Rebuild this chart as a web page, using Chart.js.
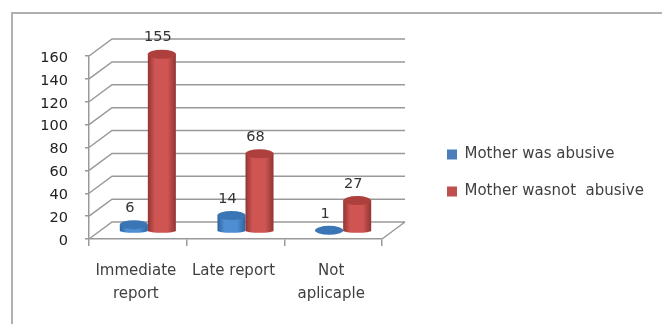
<!DOCTYPE html>
<html>
<head>
<meta charset="utf-8">
<script src="https://cdn.jsdelivr.net/npm/chart.js@4"></script>
<style>
    html, body { margin: 0; padding: 0; background: #fff; overflow: hidden; }
    #wrap { position: relative; width: 662px; height: 324px; }
    /* outer chart frame, open on the right and bottom */
    #frame { position: absolute; left: 11px; top: 12px; right: 0; bottom: 0;
             border-left: 2px solid #b0b0b0; border-top: 2px solid #b0b0b0; }
    canvas { position: absolute; left: 0; top: 0; }
</style>
</head>
<body>
<div id="wrap">
    <div id="frame"></div>
    <canvas id="reportChart" width="662" height="324"></canvas>
</div>
<script>
const categories = [['Immediate', 'report'], 'Late report', ['Not', 'aplicaple']];
const seriesNames = ['Mother was abusive', 'Mother wasnot  abusive'];
const abusive = [6, 14, 1];
const notAbusive = [155, 68, 27];
const yMax = 160;
const yStep = 20;

const colors = [
    { legend: '#4a7ebb', edge: '#2c659f', mid: '#4f8ed2', top: '#3a76b6' },
    { legend: '#c0504d', edge: '#913533', mid: '#cf5553', top: '#ad3f3d' }
];

// depth of the floor and of the cylinders behind the front axis
const wallX = 23, wallY = -17;
const barX = 10, barY = -7.5;
const capRy = 4.5, baseRy = 2;
const gridColor = '#999999';

function drawCylinder(ctx, bar, style) {
    const cx = bar.x + barX;
    const rx = bar.width / 2;
    const top = bar.y + barY;
    const base = bar.base + barY;

    const grad = ctx.createLinearGradient(cx - rx, 0, cx + rx, 0);
    grad.addColorStop(0, style.edge);
    grad.addColorStop(0.25, style.mid);
    grad.addColorStop(0.7, style.mid);
    grad.addColorStop(1, style.edge);

    ctx.fillStyle = grad;
    ctx.beginPath();
    ctx.moveTo(cx - rx, top);
    ctx.lineTo(cx - rx, base);
    ctx.ellipse(cx, base, rx, baseRy, 0, Math.PI, 0, true);
    ctx.lineTo(cx + rx, top);
    ctx.closePath();
    ctx.fill();

    ctx.fillStyle = style.top;
    ctx.beginPath();
    ctx.ellipse(cx, top, rx, capRy, 0, 0, Math.PI * 2);
    ctx.fill();
}

const chart3d = {
    id: 'chart3d',
    afterLayout(chart) {
        // the legend sits to the right of the walls
        const legend = chart.legend;
        legend.left = 425;
        legend.right = legend.left + legend.width;
        legend.top = 125;
        legend.bottom = legend.top + legend.height;
    },
    beforeDatasetsDraw(chart) {
        const { ctx, scales: { x, y } } = chart;
        ctx.save();
        ctx.strokeStyle = gridColor;
        ctx.lineWidth = 1.5;
        ctx.beginPath();
        y.ticks.forEach(t => {
            const py = y.getPixelForValue(t.value);
            ctx.moveTo(x.left, py);
            ctx.lineTo(x.left + wallX, py + wallY);
            ctx.lineTo(x.right + wallX, py + wallY);
        });
        // right edge of the floor
        const floor = y.getPixelForValue(0);
        ctx.moveTo(x.right, floor);
        ctx.lineTo(x.right + wallX, floor + wallY);
        ctx.stroke();

        categories.forEach((c, j) => {
            chart.data.datasets.forEach((ds, i) => {
                drawCylinder(ctx, chart.getDatasetMeta(i).data[j], colors[i]);
            });
        });
        ctx.restore();
        return false; // cylinders replace the flat bars
    },
    afterDraw(chart) {
        const { ctx } = chart;
        ctx.save();
        ctx.font = '14.5px "DejaVu Sans"';
        ctx.fillStyle = '#333';
        ctx.textAlign = 'center';
        ctx.textBaseline = 'middle';
        chart.data.datasets.forEach((ds, i) => {
            chart.getDatasetMeta(i).data.forEach((bar, j) => {
                ctx.fillText(ds.data[j], bar.x + barX - 4, bar.y + barY - 16.5);
            });
        });
        ctx.restore();
    }
};

new Chart(document.getElementById('reportChart'), {
    type: 'bar',
    data: {
        labels: categories,
        datasets: [
            { label: seriesNames[0], data: abusive, backgroundColor: colors[0].legend },
            { label: seriesNames[1], data: notAbusive, backgroundColor: colors[1].legend }
        ]
    },
    options: {
        responsive: false,
        animation: false,
        layout: { padding: { top: 56, right: 280, left: 0, bottom: 0 } },
        datasets: { bar: { categoryPercentage: 0.574, barPercentage: 1 } },
        scales: {
            x: {
                grid: { drawOnChartArea: false, color: gridColor, tickLength: 7, lineWidth: 1.5 },
                border: { color: gridColor, width: 1.5 },
                ticks: {
                    color: '#404040',
                    font: { family: 'DejaVu Sans', size: 15, lineHeight: '23px' },
                    padding: 14,
                    labelOffset: -2,
                    maxRotation: 0,
                    autoSkip: false
                },
                afterFit(scale) { scale.height = 85; }
            },
            y: {
                min: 0,
                max: yMax,
                grid: { drawOnChartArea: false, color: gridColor, tickLength: 4, lineWidth: 1.5 },
                border: { color: gridColor, width: 1.5 },
                ticks: {
                    stepSize: yStep,
                    color: '#222',
                    font: { family: 'DejaVu Sans', size: 14.5 },
                    padding: 17,
                    labelOffset: 2
                },
                afterFit(scale) { scale.width = 89; }
            }
        },
        plugins: {
            tooltip: { enabled: false },
            legend: {
                position: 'chartArea',
                align: 'start',
                labels: {
                    boxWidth: 10,
                    boxHeight: 10,
                    padding: 22,
                    color: '#404040',
                    font: { family: 'DejaVu Sans', size: 15 }
                }
            }
        }
    },
    plugins: [chart3d]
});
</script>
</body>
</html>
